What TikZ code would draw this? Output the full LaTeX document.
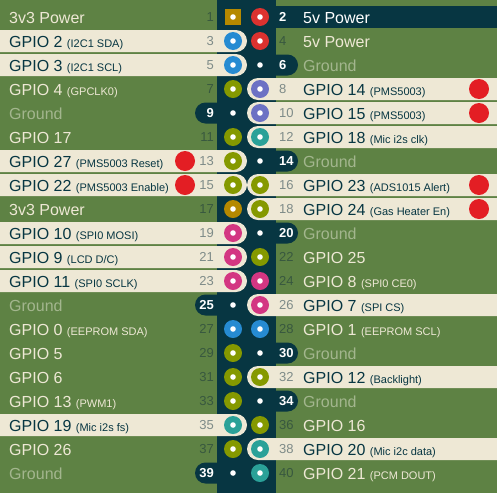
\documentclass[tikz,border=0pt]{standalone}
\usepackage{fontspec}
\setmainfont{Liberation Sans}
\definecolor{board}{HTML}{5E8244}
\definecolor{navy}{HTML}{073642}
\definecolor{cream}{HTML}{EEE8D5}
\definecolor{gndtxt}{HTML}{A3B68E}
\definecolor{dimnum}{HTML}{38583F}
\definecolor{greynum}{HTML}{7E8B88}
\definecolor{pred}{HTML}{DC322F}
\definecolor{porange}{HTML}{B58900}
\definecolor{pblue}{HTML}{268BD2}
\definecolor{pgreen}{HTML}{859900}
\definecolor{pviolet}{HTML}{6C71C4}
\definecolor{pcyan}{HTML}{2AA198}
\definecolor{pmag}{HTML}{D33682}
\definecolor{flag}{HTML}{E31E24}
\newcommand{\pinnote}[1]{{\fontsize{11}{13}\selectfont #1}}

\begin{document}
\begin{tikzpicture}[x=1pt,y=-1pt,
    pad/.style={circle,fill=#1,inner sep=0pt,minimum size=18pt,
        path picture={\fill[white] (path picture bounding box.center) circle (2.8pt);}},
    padsq/.style={rectangle,fill=#1,inner sep=0pt,minimum size=16pt,
        path picture={\fill[white] (path picture bounding box.center) circle (2.8pt);}},
    gnddot/.style={circle,fill=white,inner sep=0pt,minimum size=5.6pt},
    flagdot/.style={circle,fill=flag,inner sep=0pt,minimum size=20pt},
    lbl/.style={anchor=base west,yshift=-6pt,inner sep=0pt,font=\fontsize{16}{18}\selectfont,text=cream},
    lit/.style={text=navy},
    gnd/.style={text=gndtxt},
    num/.style={yshift=-4.5pt,inner sep=0pt,font=\fontsize{13}{15}\selectfont,text=dimnum},
    lnum/.style={num,anchor=base east},
    rnum/.style={num,anchor=base west},
    numc/.style={text=greynum},
    numw/.style={text=white,font=\fontsize{13}{15}\selectfont\bfseries},
    litrow/.style={fill=cream,rounded corners=11pt},
    gndtab/.style={fill=navy,rounded corners=10.5pt}]

    \useasboundingbox (0,0) rectangle (497,493);
    \clip (0,0) rectangle (497,493);
    \fill[board] (0,0) rectangle (497,493);
    \fill[navy] (217,0) rectangle (276,493);
    \fill[navy] (247,6) rectangle (497,28);

    % highlighted rows, left
    \path[litrow] (-20,30) rectangle (247,52);
    \path[litrow] (-20,54) rectangle (247,76);
    \path[litrow] (-20,150) rectangle (247,172);
    \path[litrow] (-20,174) rectangle (247,196);
    \path[litrow] (-20,222) rectangle (247,244);
    \path[litrow] (-20,246) rectangle (247,268);
    \path[litrow] (-20,270) rectangle (247,292);
    \path[litrow] (-20,414) rectangle (247,436);
    % highlighted rows, right
    \path[litrow] (247,78) rectangle (520,100);
    \path[litrow] (247,102) rectangle (520,124);
    \path[litrow] (247,126) rectangle (520,148);
    \path[litrow] (247,174) rectangle (520,196);
    \path[litrow] (247,198) rectangle (520,220);
    \path[litrow] (247,294) rectangle (520,316);
    \path[litrow] (247,366) rectangle (520,388);
    \path[litrow] (247,438) rectangle (520,460);

    % ground tabs
    \path[gndtab] (195,102.5) rectangle (240,123.5);
    \path[gndtab] (195,294.5) rectangle (240,315.5);
    \path[gndtab] (195,462.5) rectangle (240,483.5);
    \path[gndtab] (254,54.5) rectangle (298,75.5);
    \path[gndtab] (254,150.5) rectangle (298,171.5);
    \path[gndtab] (254,222.5) rectangle (298,243.5);
    \path[gndtab] (254,342.5) rectangle (298,363.5);
    \path[gndtab] (254,390.5) rectangle (298,411.5);

    % left header column
    \node[padsq=porange] (p1) at (233,17) {};
    \node[lnum] (n1) at (214,17) {1};
    \node[lbl] (l1) at (9,17) {3v3 Power};
    \node[pad=pblue] (p3) at (233,41) {};
    \node[lnum,numc] (n3) at (214,41) {3};
    \node[lbl,lit] (l3) at (9,41) {GPIO 2 \pinnote{(I2C1 SDA)}};
    \node[pad=pblue] (p5) at (233,65) {};
    \node[lnum,numc] (n5) at (214,65) {5};
    \node[lbl,lit] (l5) at (9,65) {GPIO 3 \pinnote{(I2C1 SCL)}};
    \node[pad=pgreen] (p7) at (233,89) {};
    \node[lnum] (n7) at (214,89) {7};
    \node[lbl] (l7) at (9,89) {GPIO 4 \pinnote{(GPCLK0)}};
    \node[gnddot] (p9) at (233,113) {};
    \node[lnum,numw] (n9) at (214,113) {9};
    \node[lbl,gnd] (l9) at (9,113) {Ground};
    \node[pad=pgreen] (p11) at (233,137) {};
    \node[lnum] (n11) at (214,137) {11};
    \node[lbl] (l11) at (9,137) {GPIO 17};
    \node[pad=pgreen] (p13) at (233,161) {};
    \node[lnum,numc] (n13) at (214,161) {13};
    \node[lbl,lit] (l13) at (9,161) {GPIO 27 \pinnote{(PMS5003 Reset)}};
    \node[flagdot] (f13) at (185,161) {};
    \node[pad=pgreen] (p15) at (233,185) {};
    \node[lnum,numc] (n15) at (214,185) {15};
    \node[lbl,lit] (l15) at (9,185) {GPIO 22 \pinnote{(PMS5003 Enable)}};
    \node[flagdot] (f15) at (185,185) {};
    \node[pad=porange] (p17) at (233,209) {};
    \node[lnum] (n17) at (214,209) {17};
    \node[lbl] (l17) at (9,209) {3v3 Power};
    \node[pad=pmag] (p19) at (233,233) {};
    \node[lnum,numc] (n19) at (214,233) {19};
    \node[lbl,lit] (l19) at (9,233) {GPIO 10 \pinnote{(SPI0 MOSI)}};
    \node[pad=pmag] (p21) at (233,257) {};
    \node[lnum,numc] (n21) at (214,257) {21};
    \node[lbl,lit] (l21) at (9,257) {GPIO 9 \pinnote{(LCD D/C)}};
    \node[pad=pmag] (p23) at (233,281) {};
    \node[lnum,numc] (n23) at (214,281) {23};
    \node[lbl,lit] (l23) at (9,281) {GPIO 11 \pinnote{(SPI0 SCLK)}};
    \node[gnddot] (p25) at (233,305) {};
    \node[lnum,numw] (n25) at (214,305) {25};
    \node[lbl,gnd] (l25) at (9,305) {Ground};
    \node[pad=pblue] (p27) at (233,329) {};
    \node[lnum] (n27) at (214,329) {27};
    \node[lbl] (l27) at (9,329) {GPIO 0 \pinnote{(EEPROM SDA)}};
    \node[pad=pgreen] (p29) at (233,353) {};
    \node[lnum] (n29) at (214,353) {29};
    \node[lbl] (l29) at (9,353) {GPIO 5};
    \node[pad=pgreen] (p31) at (233,377) {};
    \node[lnum] (n31) at (214,377) {31};
    \node[lbl] (l31) at (9,377) {GPIO 6};
    \node[pad=pgreen] (p33) at (233,401) {};
    \node[lnum] (n33) at (214,401) {33};
    \node[lbl] (l33) at (9,401) {GPIO 13 \pinnote{(PWM1)}};
    \node[pad=pcyan] (p35) at (233,425) {};
    \node[lnum,numc] (n35) at (214,425) {35};
    \node[lbl,lit] (l35) at (9,425) {GPIO 19 \pinnote{(Mic i2s fs)}};
    \node[pad=pgreen] (p37) at (233,449) {};
    \node[lnum] (n37) at (214,449) {37};
    \node[lbl] (l37) at (9,449) {GPIO 26};
    \node[gnddot] (p39) at (233,473) {};
    \node[lnum,numw] (n39) at (214,473) {39};
    \node[lbl,gnd] (l39) at (9,473) {Ground};

    % right header column
    \node[pad=pred] (p2) at (260,17) {};
    \node[rnum,numw] (n2) at (279,17) {2};
    \node[lbl,text=white] (l2) at (303,17) {5v Power};
    \node[pad=pred] (p4) at (260,41) {};
    \node[rnum] (n4) at (279,41) {4};
    \node[lbl] (l4) at (303,41) {5v Power};
    \node[gnddot] (p6) at (260,65) {};
    \node[rnum,numw] (n6) at (279,65) {6};
    \node[lbl,gnd] (l6) at (303,65) {Ground};
    \node[pad=pviolet] (p8) at (260,89) {};
    \node[rnum,numc] (n8) at (279,89) {8};
    \node[lbl,lit] (l8) at (303,89) {GPIO 14 \pinnote{(PMS5003)}};
    \node[flagdot] (f8) at (479,89) {};
    \node[pad=pviolet] (p10) at (260,113) {};
    \node[rnum,numc] (n10) at (279,113) {10};
    \node[lbl,lit] (l10) at (303,113) {GPIO 15 \pinnote{(PMS5003)}};
    \node[flagdot] (f10) at (479,113) {};
    \node[pad=pcyan] (p12) at (260,137) {};
    \node[rnum,numc] (n12) at (279,137) {12};
    \node[lbl,lit] (l12) at (303,137) {GPIO 18 \pinnote{(Mic i2s clk)}};
    \node[gnddot] (p14) at (260,161) {};
    \node[rnum,numw] (n14) at (279,161) {14};
    \node[lbl,gnd] (l14) at (303,161) {Ground};
    \node[pad=pgreen] (p16) at (260,185) {};
    \node[rnum,numc] (n16) at (279,185) {16};
    \node[lbl,lit] (l16) at (303,185) {GPIO 23 \pinnote{(ADS1015 Alert)}};
    \node[flagdot] (f16) at (479,185) {};
    \node[pad=pgreen] (p18) at (260,209) {};
    \node[rnum,numc] (n18) at (279,209) {18};
    \node[lbl,lit] (l18) at (303,209) {GPIO 24 \pinnote{(Gas Heater En)}};
    \node[flagdot] (f18) at (479,209) {};
    \node[gnddot] (p20) at (260,233) {};
    \node[rnum,numw] (n20) at (279,233) {20};
    \node[lbl,gnd] (l20) at (303,233) {Ground};
    \node[pad=pgreen] (p22) at (260,257) {};
    \node[rnum] (n22) at (279,257) {22};
    \node[lbl] (l22) at (303,257) {GPIO 25};
    \node[pad=pmag] (p24) at (260,281) {};
    \node[rnum] (n24) at (279,281) {24};
    \node[lbl] (l24) at (303,281) {GPIO 8 \pinnote{(SPI0 CE0)}};
    \node[pad=pmag] (p26) at (260,305) {};
    \node[rnum,numc] (n26) at (279,305) {26};
    \node[lbl,lit] (l26) at (303,305) {GPIO 7 \pinnote{(SPI CS)}};
    \node[pad=pblue] (p28) at (260,329) {};
    \node[rnum] (n28) at (279,329) {28};
    \node[lbl] (l28) at (303,329) {GPIO 1 \pinnote{(EEPROM SCL)}};
    \node[gnddot] (p30) at (260,353) {};
    \node[rnum,numw] (n30) at (279,353) {30};
    \node[lbl,gnd] (l30) at (303,353) {Ground};
    \node[pad=pgreen] (p32) at (260,377) {};
    \node[rnum,numc] (n32) at (279,377) {32};
    \node[lbl,lit] (l32) at (303,377) {GPIO 12 \pinnote{(Backlight)}};
    \node[gnddot] (p34) at (260,401) {};
    \node[rnum,numw] (n34) at (279,401) {34};
    \node[lbl,gnd] (l34) at (303,401) {Ground};
    \node[pad=pgreen] (p36) at (260,425) {};
    \node[rnum] (n36) at (279,425) {36};
    \node[lbl] (l36) at (303,425) {GPIO 16};
    \node[pad=pcyan] (p38) at (260,449) {};
    \node[rnum,numc] (n38) at (279,449) {38};
    \node[lbl,lit] (l38) at (303,449) {GPIO 20 \pinnote{(Mic i2c data)}};
    \node[pad=pcyan] (p40) at (260,473) {};
    \node[rnum] (n40) at (279,473) {40};
    \node[lbl] (l40) at (303,473) {GPIO 21 \pinnote{(PCM DOUT)}};
\end{tikzpicture}
\end{document}
